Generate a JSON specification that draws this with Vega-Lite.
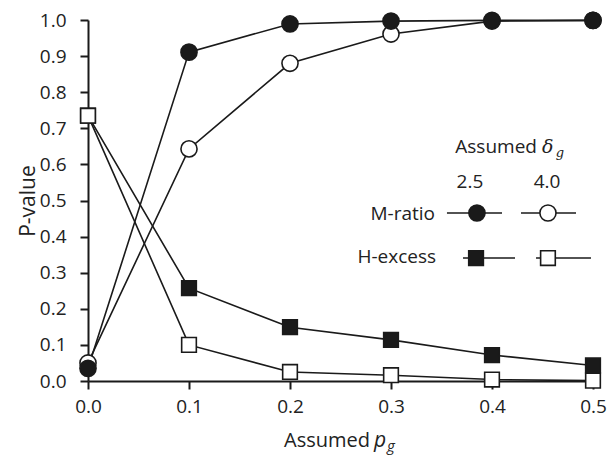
{
  "$schema": "https://vega.github.io/schema/vega-lite/v6.json",
  "width": 505,
  "height": 361,
  "autosize": "none",
  "padding": {"left": 88, "top": 20, "right": 15, "bottom": 75},
  "config": {
    "view": {"stroke": null},
    "font": "Open Sans",
    "axis": {
      "grid": false,
      "domainColor": "#1a1a1a",
      "domainWidth": 2,
      "tickColor": "#1a1a1a",
      "tickWidth": 2,
      "tickSize": 8,
      "labelColor": "#222222",
      "labelFont": "Open Sans",
      "labelFontSize": 19,
      "labelOverlap": false,
      "labelFlush": false,
      "titleFont": "Open Sans",
      "titleFontSize": 21,
      "titleFontWeight": "normal",
      "titleColor": "#222222"
    },
    "axisY": {"tickCount": 11, "labelPadding": 14, "titlePadding": 1},
    "axisX": {"tickCount": 5, "labelPadding": 8}
  },
  "datasets": {
    "pv": [
      {"pg": 0.0, "p": 0.050, "series": "M4.0", "test": "M-ratio", "delta": "4.0"},
      {"pg": 0.1, "p": 0.643, "series": "M4.0", "test": "M-ratio", "delta": "4.0"},
      {"pg": 0.2, "p": 0.880, "series": "M4.0", "test": "M-ratio", "delta": "4.0"},
      {"pg": 0.3, "p": 0.961, "series": "M4.0", "test": "M-ratio", "delta": "4.0"},
      {"pg": 0.4, "p": 0.997, "series": "M4.0", "test": "M-ratio", "delta": "4.0"},
      {"pg": 0.5, "p": 0.999, "series": "M4.0", "test": "M-ratio", "delta": "4.0"},
      {"pg": 0.0, "p": 0.035, "series": "M2.5", "test": "M-ratio", "delta": "2.5"},
      {"pg": 0.1, "p": 0.911, "series": "M2.5", "test": "M-ratio", "delta": "2.5"},
      {"pg": 0.2, "p": 0.989, "series": "M2.5", "test": "M-ratio", "delta": "2.5"},
      {"pg": 0.3, "p": 0.997, "series": "M2.5", "test": "M-ratio", "delta": "2.5"},
      {"pg": 0.4, "p": 0.999, "series": "M2.5", "test": "M-ratio", "delta": "2.5"},
      {"pg": 0.5, "p": 0.999, "series": "M2.5", "test": "M-ratio", "delta": "2.5"},
      {"pg": 0.0, "p": 0.735, "series": "H2.5", "test": "H-excess", "delta": "2.5"},
      {"pg": 0.1, "p": 0.257, "series": "H2.5", "test": "H-excess", "delta": "2.5"},
      {"pg": 0.2, "p": 0.149, "series": "H2.5", "test": "H-excess", "delta": "2.5"},
      {"pg": 0.3, "p": 0.114, "series": "H2.5", "test": "H-excess", "delta": "2.5"},
      {"pg": 0.4, "p": 0.072, "series": "H2.5", "test": "H-excess", "delta": "2.5"},
      {"pg": 0.5, "p": 0.043, "series": "H2.5", "test": "H-excess", "delta": "2.5"},
      {"pg": 0.0, "p": 0.735, "series": "H4.0", "test": "H-excess", "delta": "4.0"},
      {"pg": 0.1, "p": 0.100, "series": "H4.0", "test": "H-excess", "delta": "4.0"},
      {"pg": 0.2, "p": 0.025, "series": "H4.0", "test": "H-excess", "delta": "4.0"},
      {"pg": 0.3, "p": 0.016, "series": "H4.0", "test": "H-excess", "delta": "4.0"},
      {"pg": 0.4, "p": 0.004, "series": "H4.0", "test": "H-excess", "delta": "4.0"},
      {"pg": 0.5, "p": 0.001, "series": "H4.0", "test": "H-excess", "delta": "4.0"}
    ],
    "legLines": [
      {"x1": 0.3554, "x2": 0.4099, "y": 0.4654, "series": "M2.5"},
      {"x1": 0.4287, "x2": 0.4832, "y": 0.4654, "series": "M4.0"},
      {"x1": 0.3713, "x2": 0.4228, "y": 0.3407, "series": "H2.5"},
      {"x1": 0.4436, "x2": 0.4980, "y": 0.3407, "series": "H4.0"}
    ],
    "legPts": [
      {"x": 0.3851, "y": 0.4654, "test": "M-ratio", "delta": "2.5"},
      {"x": 0.4554, "y": 0.4654, "test": "M-ratio", "delta": "4.0"},
      {"x": 0.3842, "y": 0.3407, "test": "H-excess", "delta": "2.5"},
      {"x": 0.4554, "y": 0.3407, "test": "H-excess", "delta": "4.0"}
    ],
    "txtRight": [
      {"x": 0.4445, "y": 0.6316, "label": "Assumed"},
      {"x": 0.3436, "y": 0.4460, "label": "M-ratio"},
      {"x": 0.3446, "y": 0.3269, "label": "H-excess"}
    ],
    "txtCenter": [
      {"x": 0.3782, "y": 0.5346, "label": "2.5"},
      {"x": 0.4545, "y": 0.5346, "label": "4.0"}
    ],
    "txtXTitle": [
      {"x": 0.2792, "y": -0.1828, "label": "Assumed"}
    ],
    "txtSerifItalic": [
      {"x": 0.4495, "y": 0.6316, "label": "δ"}
    ],
    "txtSerifSub": [
      {"x": 0.4630, "y": 0.6200, "label": "g"}
    ],
    "txtSansItalic": [
      {"x": 0.2832, "y": -0.1828, "label": "p"}
    ],
    "txtSansSub": [
      {"x": 0.2960, "y": -0.1930, "label": "g"}
    ]
  },
  "layer": [
    {
      "data": {"name": "pv"},
      "mark": {"type": "line", "color": "#1a1a1a", "strokeWidth": 1.6},
      "encoding": {
        "x": {
          "field": "pg", "type": "quantitative",
          "scale": {"domain": [0, 0.5], "nice": false},
          "axis": {"format": ".1f", "title": null}
        },
        "y": {
          "field": "p", "type": "quantitative",
          "scale": {"domain": [0, 1], "nice": false},
          "axis": {"format": ".1f", "title": "P-value"}
        },
        "detail": {"field": "series"}
      }
    },
    {
      "data": {"name": "legLines"},
      "mark": {"type": "rule", "color": "#1a1a1a", "strokeWidth": 1.6},
      "encoding": {
        "x": {"field": "x1", "type": "quantitative"},
        "x2": {"field": "x2"},
        "y": {"field": "y", "type": "quantitative"}
      }
    },
    {
      "data": {"name": "pv"},
      "mark": {"type": "point", "filled": true, "stroke": "#1a1a1a", "strokeWidth": 1.6, "opacity": 1},
      "encoding": {
        "x": {"field": "pg", "type": "quantitative"},
        "y": {"field": "p", "type": "quantitative"},
        "shape": {"field": "test", "type": "nominal", "scale": {"domain": ["M-ratio", "H-excess"], "range": ["circle", "square"]}, "legend": null},
        "fill": {"field": "delta", "type": "nominal", "scale": {"domain": ["2.5", "4.0"], "range": ["#1a1a1a", "#ffffff"]}, "legend": null},
        "size": {"field": "test", "type": "nominal", "scale": {"domain": ["M-ratio", "H-excess"], "range": [260, 215]}, "legend": null}
      }
    },
    {
      "data": {"name": "legPts"},
      "mark": {"type": "point", "filled": true, "stroke": "#1a1a1a", "strokeWidth": 1.6, "opacity": 1},
      "encoding": {
        "x": {"field": "x", "type": "quantitative"},
        "y": {"field": "y", "type": "quantitative"},
        "shape": {"field": "test", "type": "nominal", "legend": null},
        "fill": {"field": "delta", "type": "nominal", "legend": null},
        "size": {"field": "test", "type": "nominal", "legend": null}
      }
    },
    {
      "data": {"name": "txtRight"},
      "mark": {"type": "text", "align": "right", "baseline": "alphabetic", "font": "Open Sans", "fontSize": 19, "color": "#222222"},
      "encoding": {
        "x": {"field": "x", "type": "quantitative"},
        "y": {"field": "y", "type": "quantitative"},
        "text": {"field": "label"}
      }
    },
    {
      "data": {"name": "txtCenter"},
      "mark": {"type": "text", "align": "center", "baseline": "alphabetic", "font": "Open Sans", "fontSize": 19, "color": "#222222"},
      "encoding": {
        "x": {"field": "x", "type": "quantitative"},
        "y": {"field": "y", "type": "quantitative"},
        "text": {"field": "label"}
      }
    },
    {
      "data": {"name": "txtXTitle"},
      "mark": {"type": "text", "align": "right", "baseline": "alphabetic", "font": "Open Sans", "fontSize": 20, "color": "#222222"},
      "encoding": {
        "x": {"field": "x", "type": "quantitative"},
        "y": {"field": "y", "type": "quantitative"},
        "text": {"field": "label"}
      }
    },
    {
      "data": {"name": "txtSerifItalic"},
      "mark": {"type": "text", "align": "left", "baseline": "alphabetic", "font": "DejaVu Serif", "fontStyle": "italic", "fontSize": 19, "color": "#222222"},
      "encoding": {
        "x": {"field": "x", "type": "quantitative"},
        "y": {"field": "y", "type": "quantitative"},
        "text": {"field": "label"}
      }
    },
    {
      "data": {"name": "txtSerifSub"},
      "mark": {"type": "text", "align": "left", "baseline": "alphabetic", "font": "DejaVu Serif", "fontStyle": "italic", "fontSize": 13, "color": "#222222"},
      "encoding": {
        "x": {"field": "x", "type": "quantitative"},
        "y": {"field": "y", "type": "quantitative"},
        "text": {"field": "label"}
      }
    },
    {
      "data": {"name": "txtSansItalic"},
      "mark": {"type": "text", "align": "left", "baseline": "alphabetic", "font": "Open Sans", "fontStyle": "italic", "fontSize": 21, "color": "#222222"},
      "encoding": {
        "x": {"field": "x", "type": "quantitative"},
        "y": {"field": "y", "type": "quantitative"},
        "text": {"field": "label"}
      }
    },
    {
      "data": {"name": "txtSansSub"},
      "mark": {"type": "text", "align": "left", "baseline": "alphabetic", "font": "Open Sans", "fontStyle": "italic", "fontSize": 15, "color": "#222222"},
      "encoding": {
        "x": {"field": "x", "type": "quantitative"},
        "y": {"field": "y", "type": "quantitative"},
        "text": {"field": "label"}
      }
    }
  ]
}
